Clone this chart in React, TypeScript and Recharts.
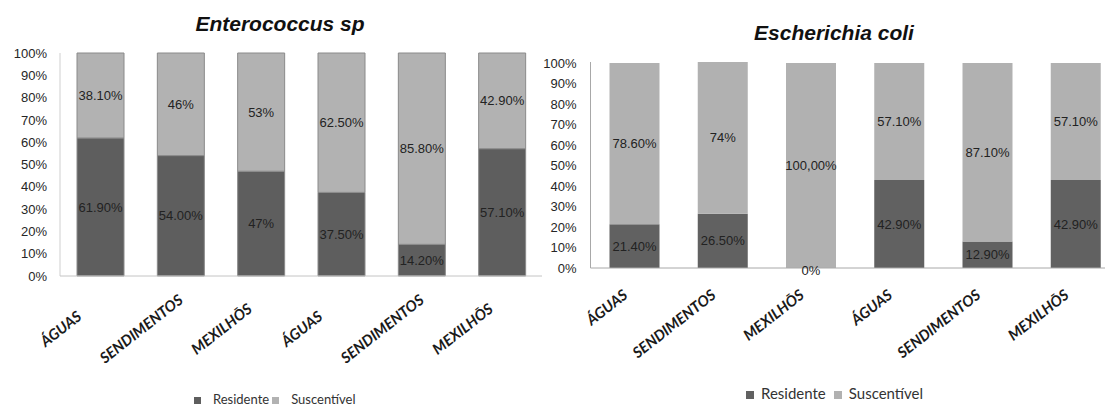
import React from 'react'
import { BarChart, Bar, XAxis, YAxis, LabelList, Legend } from 'recharts'

const categories = ['ÁGUAS', 'SENDIMENTOS', 'MEXILHŌS', 'ÁGUAS', 'SENDIMENTOS', 'MEXILHŌS']

// percentages as printed on the bars
const enteroResidente = ['61.90', '54.00', '47', '37.50', '14.20', '57.10']
const enteroSuscetivel = ['38.10', '46', '53', '62.50', '85.80', '42.90']

const coliResidente = ['21.40', '26.50', '0', '42.90', '12.90', '42.90']
const coliSuscetivel = ['78.60', '74', '100,00', '57.10', '87.10', '57.10']

const yTicks = [0, 10, 20, 30, 40, 50, 60, 70, 80, 90, 100]

const toNum = (s: string) => parseFloat(s.replace(',', '.'))

const buildRows = (res: string[], sus: string[]) =>
  categories.map((name, i) => ({
    name,
    res: toNum(res[i]),
    resLabel: res[i] + '%',
    sus: toNum(sus[i]),
    susLabel: sus[i] + '%',
  }))

const AXIS_FONT = '"Liberation Sans", Arial, sans-serif'
const CAT_FONT = 'Lato, "Open Sans", sans-serif'

function CenteredTick(props: any) {
  const { x, y, payload } = props
  const cx = x - 36
  const cy = y + 55
  return (
    <text
      x={cx}
      y={cy}
      textAnchor="middle"
      transform={`rotate(-38, ${cx}, ${cy})`}
      fontFamily={CAT_FONT}
      fontStyle="italic"
      fontWeight={700}
      fontSize={15}
      fill="#1a1a1a"
    >
      {payload.value}
    </text>
  )
}

function EndTick(props: any) {
  const { x, y, payload } = props
  const ex = x - 6
  const ey = y + 27
  return (
    <text
      x={ex}
      y={ey}
      textAnchor="end"
      transform={`rotate(-38, ${ex}, ${ey})`}
      fontFamily={CAT_FONT}
      fontStyle="italic"
      fontWeight={700}
      fontSize={15}
      fill="#1a1a1a"
    >
      {payload.value}
    </text>
  )
}

function makeLegend(fontSize: number, box: number, gap: number, textGap: number) {
  return function LegendContent(props: any) {
    const items = props.payload || []
    return (
      <div
        style={{
          display: 'flex',
          alignItems: 'baseline',
          fontFamily: CAT_FONT,
          fontSize,
          lineHeight: 1,
          color: '#333',
        }}
      >
        {items.map((it: any, i: number) => (
          <span key={i} style={{ display: 'flex', alignItems: 'flex-end', marginRight: i === 0 ? gap : 0 }}>
            <span
              style={{
                display: 'inline-block',
                width: box,
                height: box,
                background: it.color,
                marginRight: textGap,
                marginBottom: 2,
              }}
            />
            <span>{it.value}</span>
          </span>
        ))}
      </div>
    )
  }
}

const labelStyle = { fontFamily: AXIS_FONT, fontSize: 13, fill: '#222' }

// a zero-height segment gets no rectangle of its own, so its label is
// placed at the foot of the segment stacked on top of it
function makeZeroLabel(rows: { res: number }[]) {
  return function ZeroLabel(props: any) {
    const { x, y, width, height, value, index } = props
    if (!rows[index] || rows[index].res !== 0) return null
    return (
      <text
        x={x + width / 2}
        y={y + height + 2}
        textAnchor="middle"
        dominantBaseline="central"
        style={labelStyle}
      >
        {value}
      </text>
    )
  }
}

export default function App() {
  const entero = buildRows(enteroResidente, enteroSuscetivel)
  const coli = buildRows(coliResidente, coliSuscetivel)

  return (
    <div
      style={{
        position: 'absolute',
        left: 0,
        top: 0,
        width: 1105,
        height: 407,
        overflow: 'hidden',
        background: '#fff',
      }}
    >
      <div
        style={{
          position: 'absolute',
          left: 180,
          width: 200,
          top: 12,
          textAlign: 'center',
          fontFamily: AXIS_FONT,
          fontWeight: 700,
          fontStyle: 'italic',
          fontSize: 21,
          color: '#111',
        }}
      >
        Enterococcus sp
      </div>
      <div
        style={{
          position: 'absolute',
          left: 734,
          width: 200,
          top: 21,
          textAlign: 'center',
          fontFamily: AXIS_FONT,
          fontWeight: 700,
          fontStyle: 'italic',
          fontSize: 21,
          color: '#111',
        }}
      >
        Escherichia coli
      </div>

      <div style={{ position: 'absolute', left: 0, top: 0 }}>
        <BarChart width={545} height={407} data={entero} margin={{ top: 53, right: 3, bottom: 0, left: 0 }} barSize={47}>
          <YAxis
            domain={[0, 100]}
            ticks={yTicks}
            tickFormatter={(v) => `${v}%`}
            width={60}
            tickLine={false}
            tickSize={0}
            tickMargin={13}
            axisLine={{ stroke: '#cfcfcf' }}
            tick={{ fontFamily: AXIS_FONT, fontSize: 13, fill: '#262626' }}
          />
          <XAxis
            dataKey="name"
            height={118}
            interval={0}
            tickLine={false}
            tickSize={0}
            axisLine={{ stroke: '#c4c4c4' }}
            tick={<CenteredTick />}
          />
          <Legend
            verticalAlign="bottom"
            height={13}
            content={makeLegend(13, 7, 3, 12)}
            wrapperStyle={{ left: 194, top: 393, width: 'auto', height: 13 }}
          />
          <Bar dataKey="res" name="Residente" stackId="a" fill="#5e5e5e" stroke="#8a8a8a" isAnimationActive={false}>
            <LabelList dataKey="resLabel" position="center" style={labelStyle} />
          </Bar>
          <Bar dataKey="sus" name="Suscentível" stackId="a" fill="#b2b2b2" stroke="#8a8a8a" isAnimationActive={false}>
            <LabelList dataKey="susLabel" position="center" style={labelStyle} />
          </Bar>
        </BarChart>
      </div>

      <div style={{ position: 'absolute', left: 535, top: 0 }}>
        <BarChart width={590} height={407} data={coli} margin={{ top: 62, right: 5, bottom: 0, left: 0 }} barSize={50}>
          <YAxis
            domain={[0, 100]}
            ticks={yTicks}
            tickFormatter={(v) => `${v}%`}
            width={55.5}
            tickLine={false}
            tickSize={0}
            tickMargin={14}
            axisLine={{ stroke: '#a8a8a8' }}
            tick={{ fontFamily: AXIS_FONT, fontSize: 13, fill: '#262626' }}
          />
          <XAxis
            dataKey="name"
            height={124}
            interval={0}
            tickLine={false}
            tickSize={0}
            axisLine={{ stroke: '#a8a8a8' }}
            tick={<EndTick />}
          />
          <Legend
            verticalAlign="bottom"
            height={15}
            content={makeLegend(15, 8, 8, 7)}
            wrapperStyle={{ left: 211, top: 386, width: 'auto', height: 15 }}
          />
          <Bar dataKey="res" name="Residente" stackId="a" fill="#616161" isAnimationActive={false}>
            <LabelList dataKey="resLabel" position="center" style={labelStyle} />
          </Bar>
          <Bar dataKey="sus" name="Suscentível" stackId="a" fill="#b1b1b1" isAnimationActive={false}>
            <LabelList dataKey="susLabel" position="center" style={labelStyle} />
            <LabelList dataKey="resLabel" content={makeZeroLabel(coli)} />
          </Bar>
        </BarChart>
      </div>
    </div>
  )
}
